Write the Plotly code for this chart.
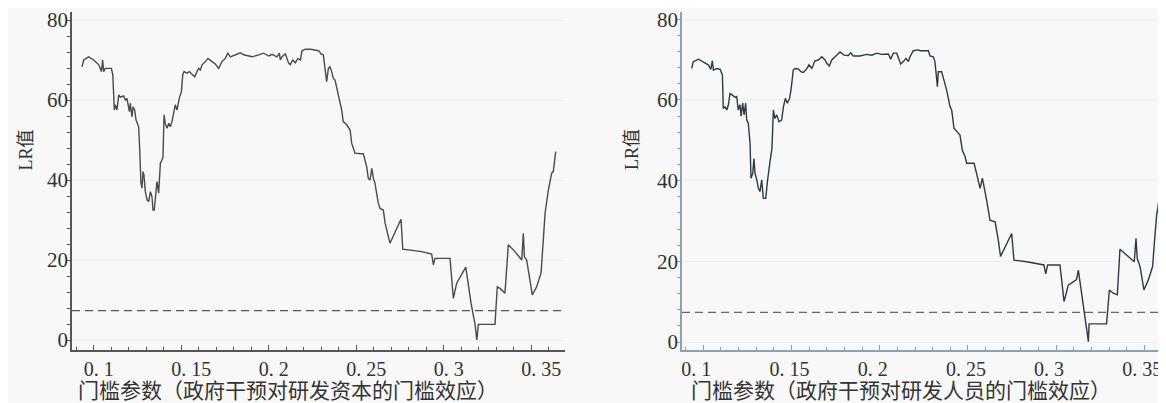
import plotly.graph_objects as go

# ---------------- data ----------------
capital_threshold = [
    0.0933, 0.0943, 0.0971, 0.1000, 0.1029, 0.1044, 0.1051, 0.1057, 0.1066, 0.1101,
    0.1109, 0.1114, 0.1118, 0.1124, 0.1133, 0.1143, 0.1152, 0.1171, 0.1181, 0.1190,
    0.1200, 0.1204, 0.1209, 0.1219, 0.1225, 0.1234, 0.1242, 0.1247, 0.1257, 0.1263,
    0.1270, 0.1276, 0.1282, 0.1287, 0.1295, 0.1305, 0.1314, 0.1324, 0.1333, 0.1339,
    0.1346, 0.1356, 0.1362, 0.1371, 0.1377, 0.1381, 0.1390, 0.1396, 0.1402, 0.1409,
    0.1419, 0.1429, 0.1438, 0.1447, 0.1457, 0.1466, 0.1476, 0.1489, 0.1501, 0.1509,
    0.1516, 0.1533, 0.1546, 0.1562, 0.1577, 0.1590, 0.1600, 0.1609, 0.1619, 0.1638,
    0.1653, 0.1676, 0.1695, 0.1714, 0.1733, 0.1752, 0.1766, 0.1781, 0.1809, 0.1838,
    0.1857, 0.1905, 0.1943, 0.1971, 0.2000, 0.2019, 0.2047, 0.2061, 0.2066, 0.2076,
    0.2095, 0.2105, 0.2114, 0.2123, 0.2137, 0.2152, 0.2167, 0.2181, 0.2190, 0.2209,
    0.2238, 0.2265, 0.2287, 0.2299, 0.2312, 0.2318, 0.2331, 0.2341, 0.2350, 0.2360,
    0.2369, 0.2379, 0.2389, 0.2407, 0.2417, 0.2426, 0.2446, 0.2465, 0.2474, 0.2493,
    0.2541, 0.2560, 0.2569, 0.2579, 0.2589, 0.2598, 0.2607, 0.2626, 0.2636, 0.2655,
    0.2665, 0.2693, 0.2756, 0.2766, 0.2807, 0.2874, 0.2931, 0.2941, 0.2950, 0.3036,
    0.3055, 0.3074, 0.3126, 0.3156, 0.3179, 0.3189, 0.3198, 0.3293, 0.3306, 0.3322,
    0.3350, 0.3369, 0.3407, 0.3446, 0.3455, 0.3461, 0.3474, 0.3506, 0.3531, 0.3556,
    0.3569, 0.3579, 0.3598, 0.3617, 0.3626, 0.3640,
]
capital_lr = [
    68.3, 70.0, 70.8, 70.0, 68.8, 67.1, 70.0, 67.1, 67.9, 67.9,
    66.3, 60.8, 57.5, 58.8, 57.5, 61.3, 60.7, 61.0, 60.0, 60.4,
    58.3, 57.1, 59.2, 55.8, 58.3, 57.5, 55.0, 54.2, 53.3, 47.5,
    39.2, 38.0, 42.1, 41.3, 37.1, 35.0, 34.6, 37.1, 35.8, 32.5,
    32.5, 37.1, 39.6, 36.7, 40.8, 44.2, 45.0, 45.8, 56.3, 54.2,
    52.9, 54.2, 53.3, 54.6, 56.7, 58.8, 57.5, 60.4, 62.1, 66.3,
    67.1, 66.7, 67.1, 66.4, 65.8, 67.1, 67.9, 67.5, 68.8, 69.6,
    70.4, 69.6, 69.0, 67.9, 69.6, 70.4, 71.7, 70.8, 71.3, 71.8,
    71.3, 70.8, 71.3, 71.7, 71.0, 71.4, 70.8, 71.7, 70.0, 70.8,
    71.5, 70.0, 69.2, 68.8, 70.0, 69.3, 70.4, 70.0, 72.3, 72.7,
    72.7, 72.5, 72.3, 71.5, 71.3, 69.2, 64.6, 67.9, 68.3, 67.1,
    65.4, 65.0, 62.9, 60.0, 57.5, 54.6, 53.8, 52.5, 49.2, 46.7,
    46.5, 43.3, 40.4, 40.0, 42.9, 40.4, 39.2, 34.2, 32.9, 32.5,
    29.2, 24.2, 30.2, 22.7, 22.5, 22.1, 21.5, 18.8, 20.4, 20.4,
    10.4, 14.2, 18.2, 9.2, 3.9, 0.0, 3.9, 3.9, 13.3, 12.9,
    11.7, 23.8, 22.1, 20.0, 26.7, 20.8, 20.0, 11.3, 13.3, 16.7,
    25.0, 31.7, 37.5, 41.7, 42.1, 47.1,
]

labor_threshold = [
    0.0934, 0.0943, 0.0972, 0.1000, 0.1028, 0.1042, 0.1051, 0.1057, 0.1076, 0.1095,
    0.1108, 0.1113, 0.1123, 0.1133, 0.1142, 0.1151, 0.1167, 0.1180, 0.1189, 0.1198,
    0.1208, 0.1214, 0.1223, 0.1231, 0.1240, 0.1246, 0.1255, 0.1265, 0.1270, 0.1280,
    0.1287, 0.1293, 0.1303, 0.1312, 0.1321, 0.1331, 0.1340, 0.1354, 0.1363, 0.1368,
    0.1378, 0.1389, 0.1397, 0.1406, 0.1416, 0.1429, 0.1444, 0.1454, 0.1465, 0.1476,
    0.1488, 0.1497, 0.1510, 0.1520, 0.1539, 0.1552, 0.1567, 0.1586, 0.1599, 0.1615,
    0.1633, 0.1652, 0.1671, 0.1690, 0.1700, 0.1714, 0.1728, 0.1747, 0.1775, 0.1798,
    0.1822, 0.1836, 0.1850, 0.1888, 0.1926, 0.1955, 0.1983, 0.2011, 0.2049, 0.2062,
    0.2077, 0.2096, 0.2108, 0.2119, 0.2134, 0.2149, 0.2162, 0.2172, 0.2190, 0.2219,
    0.2228, 0.2276, 0.2285, 0.2304, 0.2313, 0.2327, 0.2332, 0.2351, 0.2361, 0.2379,
    0.2399, 0.2408, 0.2421, 0.2455, 0.2468, 0.2484, 0.2493, 0.2535, 0.2549, 0.2569,
    0.2582, 0.2593, 0.2606, 0.2625, 0.2654, 0.2672, 0.2685, 0.2748, 0.2761, 0.2833,
    0.2909, 0.2931, 0.2941, 0.2952, 0.3022, 0.3045, 0.3069, 0.3116, 0.3126, 0.3154,
    0.3183, 0.3187, 0.3286, 0.3302, 0.3324, 0.3347, 0.3362, 0.3409, 0.3443, 0.3453,
    0.3460, 0.3476, 0.3498, 0.3523, 0.3547, 0.3557, 0.3570, 0.3585, 0.3602, 0.3617,
    0.3646,
]
labor_lr = [
    67.8, 69.5, 70.1, 69.5, 68.7, 67.6, 69.7, 67.4, 67.8, 67.6,
    66.2, 57.9, 58.3, 57.5, 58.8, 61.6, 61.0, 60.7, 60.8, 57.5,
    58.8, 56.0, 59.2, 56.3, 59.2, 55.0, 54.2, 49.2, 40.6, 41.8,
    45.5, 41.8, 40.2, 38.1, 37.3, 40.2, 35.6, 35.6, 39.7, 41.8,
    44.7, 48.0, 57.5, 55.4, 56.3, 54.6, 55.0, 58.3, 60.4, 59.2,
    60.2, 62.5, 67.4, 67.8, 67.7, 67.0, 66.8, 67.7, 68.7, 67.8,
    69.7, 69.9, 70.7, 69.9, 69.1, 68.4, 69.9, 70.7, 71.9, 71.1,
    71.0, 71.7, 70.9, 70.9, 71.3, 71.1, 71.6, 71.3, 71.4, 70.1,
    71.6, 71.6, 70.1, 68.9, 69.5, 70.3, 69.5, 70.7, 72.2, 72.4,
    72.2, 72.2, 70.9, 70.7, 69.5, 63.3, 67.0, 67.0, 65.4, 62.5,
    58.3, 57.5, 53.0, 51.3, 47.6, 45.9, 44.3, 44.3, 41.8, 38.1,
    40.6, 38.5, 35.2, 30.2, 29.8, 25.3, 21.2, 26.9, 20.3, 19.9,
    19.3, 19.1, 16.9, 19.1, 19.1, 10.0, 14.1, 15.5, 17.8, 8.8,
    0.1, 4.5, 4.5, 12.9, 12.1, 11.7, 23.0, 21.2, 19.9, 25.7,
    20.7, 18.7, 12.9, 15.4, 18.7, 24.5, 31.5, 35.6, 39.3, 42.6,
    47.6,
]

critical_value = 7.35
x_tick_vals = [0.1, 0.15, 0.2, 0.25, 0.3, 0.35]
x_tick_text = ["0. 1\u2007", "0. 15", "0. 2\u2007", "0. 25", "0. 3\u2007", "0. 35"]
y_tick_vals = [0, 20, 40, 60, 80]
y_tick_text = ["0", "20", "40", "60", "80"]
y_title = "LR值"
left_x_title = "门槛参数（政府干预对研发资本的门槛效应）"
right_x_title = "门槛参数（政府干预对研发人员的门槛效应）"

# ---------------- layout helpers ----------------
# The page body has an 8px margin, so the figure starts at screen (8, 8).
OFF = 8
W, H = 1166 - OFF, 403 - OFF
TOP_S, BOT_S = 12, 350          # plot area top / bottom in screen px
MT, MB = TOP_S - OFF, 403 - BOT_S
PLOT_H = H - MT - MB


def px_x(p):  # screen px -> paper x
    return (p - OFF) / W


def px_y(p):  # screen px -> paper y
    return (BOT_S - p) / PLOT_H


SERIF = "Liberation Serif, Noto Sans CJK SC"

fig = go.Figure()
fig.add_trace(go.Scatter(x=capital_threshold, y=capital_lr, mode="lines",
                         line=dict(color="#4a4a4a", width=1.4), xaxis="x", yaxis="y",
                         showlegend=False, hoverinfo="skip"))
fig.add_trace(go.Scatter(x=labor_threshold, y=labor_lr, mode="lines",
                         line=dict(color="#2c3b44", width=1.4), xaxis="x2", yaxis="y2",
                         showlegend=False, hoverinfo="skip"))


def xaxis_cfg(domain, rng, color, shift, anchor):
    return dict(
        domain=domain, range=rng, anchor=anchor, automargin=False,
        showline=True, linecolor=color, linewidth=1.5, mirror=False,
        showgrid=False, zeroline=False,
        tickmode="array", tickvals=x_tick_vals, ticktext=x_tick_text,
        ticks="inside", ticklen=5, tickcolor=color, tickwidth=1,
        minor=dict(dtick=0.01, tick0=0.1, ticks="inside", ticklen=3, tickcolor=color, showgrid=False),
        tickfont=dict(family=SERIF, size=20, color="#333333"),
        ticklabelshift=shift, ticklabelstandoff=0, ticklabeloverflow="allow",
    )


def yaxis_cfg(rng, color, anchor):
    return dict(
        domain=[0, 1], range=rng, anchor=anchor, automargin=False,
        showline=True, linecolor=color, linewidth=1.5,
        showgrid=True, gridcolor="#efefef", gridwidth=1, zeroline=False,
        tickmode="array", tickvals=y_tick_vals, ticktext=y_tick_text,
        ticks="outside", ticklen=4, tickcolor=color, tickwidth=1,
        minor=dict(dtick=4, tick0=0, ticks="outside", ticklen=3, tickcolor=color, showgrid=False),
        tickfont=dict(family=SERIF, size=21, color="#333333"),
        ticklabelstandoff=-6, ticklabeloverflow="allow",
    )


fig.update_layout(
    width=W, height=H,
    margin=dict(l=0, r=0, t=MT, b=MB, pad=0),
    paper_bgcolor="#f8f8f8", plot_bgcolor="rgba(0,0,0,0)",
    showlegend=False,
    xaxis=xaxis_cfg([px_x(72), px_x(565)], [0.0876, 0.3693], "#555555", 10, "y"),
    yaxis=yaxis_cfg([-2.5, 82.0], "#555555", "x"),
    xaxis2=xaxis_cfg([px_x(682), 1.0], [0.0879, 0.3623], "#8aa2b4", -2, "y2"),
    yaxis2=yaxis_cfg([-1.98, 81.8], "#8aa2b4", "x2"),
)

shapes = [
    dict(type="line", xref="x domain", yref="y", x0=0, x1=1, y0=critical_value, y1=critical_value,
         line=dict(color="#555555", width=1.2, dash="8px,5px")),
    dict(type="line", xref="x2 domain", yref="y2", x0=0, x1=1, y0=critical_value, y1=critical_value,
         line=dict(color="#666666", width=1.2, dash="8px,5px")),
]
fig.update_layout(shapes=shapes)

annotations = [
    dict(text=y_title, xref="paper", yref="paper", x=px_x(25.5), y=px_y(150), textangle=-90,
         showarrow=False, xanchor="center", yanchor="middle",
         font=dict(family=SERIF, size=18, color="#333333")),
    dict(text=y_title, xref="paper", yref="paper", x=px_x(632), y=px_y(150), textangle=-90,
         showarrow=False, xanchor="center", yanchor="middle",
         font=dict(family=SERIF, size=18, color="#333333")),
    dict(text=left_x_title, xref="paper", yref="paper", x=px_x(76), y=px_y(391),
         showarrow=False, xanchor="left", yanchor="middle",
         font=dict(family=SERIF, size=21, color="#333333")),
    dict(text=right_x_title, xref="paper", yref="paper", x=px_x(689), y=px_y(391),
         showarrow=False, xanchor="left", yanchor="middle",
         font=dict(family=SERIF, size=21, color="#333333")),
]
fig.update_layout(annotations=annotations)

fig.write_html("out.html")
